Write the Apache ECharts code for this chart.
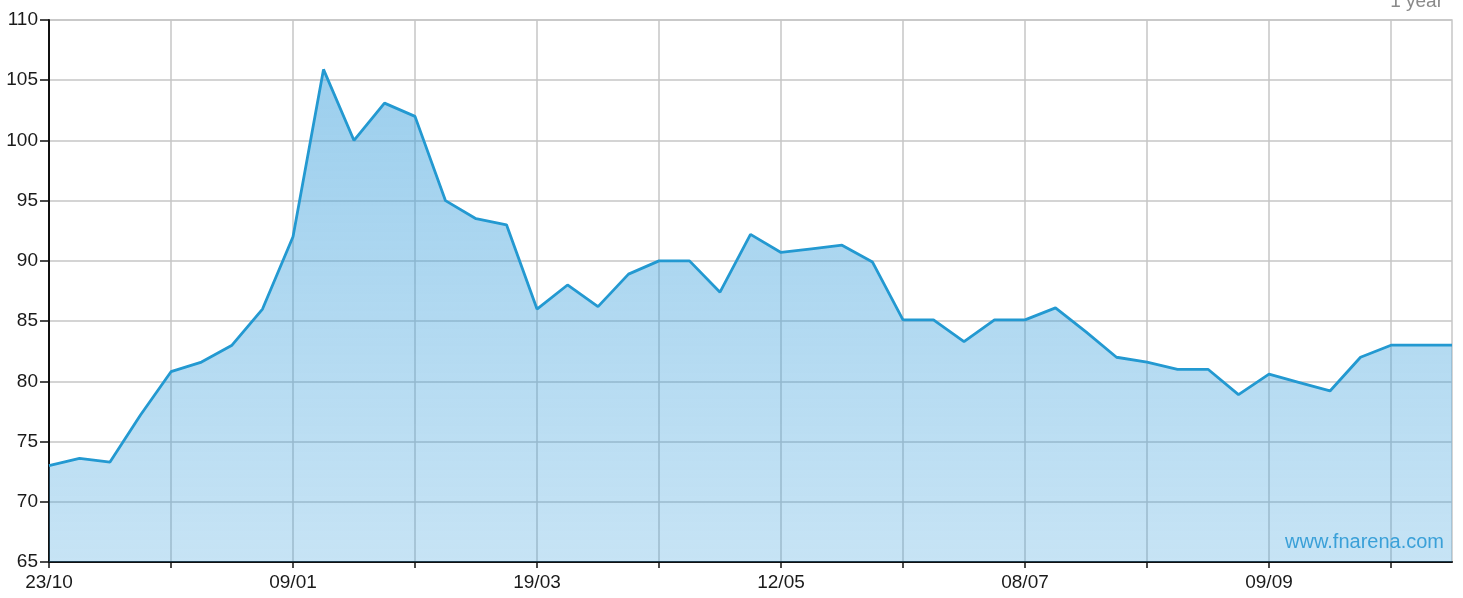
<!DOCTYPE html>
<html>
<head>
<meta charset="utf-8">
<script src="https://cdn.jsdelivr.net/npm/echarts@6/dist/echarts.min.js"></script>
<style>
html,body{margin:0;padding:0;background:#fff;}
#chart{width:1463px;height:598px;}
</style>
</head>
<body>
<div id="chart"></div>
<script>
// tick labels, one every 8 points
var xLabels = ['23/10','09/01','19/03','12/05','08/07','09/09'];
// price values
var prices = [
    73.0, 73.6, 73.3, 77.2, 80.8, 81.6, 83.0, 86.0,
    92.0, 105.9, 100.0, 103.1, 102.0, 95.0, 93.5, 93.0,
    86.0, 88.0, 86.2, 88.9, 90.0, 90.0, 87.4, 92.2,
    90.7, 91.0, 91.3, 89.9, 85.1, 85.1, 83.3, 85.1,
    85.1, 86.1, 84.1, 82.0, 81.6, 81.0, 81.0, 78.9,
    80.6, 79.9, 79.2, 82.0, 83.0, 83.0, 83.0
];
var yMin = 65, yMax = 110, yStep = 5;

var cats = [];
for (var i = 0; i < prices.length; i++) {
    cats.push(i % 8 === 0 ? xLabels[i / 8] : '');
}

var e = echarts.init(document.getElementById('chart'));
var font = 'Liberation Sans, Arial, sans-serif';
var option = {
    animation: false,
    grid: {left: 49, right: 11, top: 20, bottom: 36, show: true, borderColor: '#c6c6c6', borderWidth: 1.5},
    xAxis: {
        type: 'category',
        boundaryGap: false,
        data: cats,
        axisLine: {lineStyle: {color: '#111', width: 2}},
        axisTick: {show: true, interval: 3, length: 6, lineStyle: {color: '#111', width: 1.5}},
        axisLabel: {interval: 7, margin: 11, color: '#1a1a1a', fontSize: 19, fontFamily: font},
        splitLine: {show: true, interval: 3, lineStyle: {color: '#c6c6c6', width: 1.5}}
    },
    yAxis: {
        type: 'value',
        min: yMin,
        max: yMax,
        interval: yStep,
        axisLine: {show: true, lineStyle: {color: '#111', width: 2}},
        axisTick: {show: true, length: 9, lineStyle: {color: '#111', width: 1.5}},
        axisLabel: {margin: 11, color: '#1a1a1a', fontSize: 19, fontFamily: font},
        splitLine: {show: true, lineStyle: {color: '#c6c6c6', width: 1.5}}
    },
    graphic: [
        {type: 'text', right: 20, top: -8, z: 10,
         style: {text: '1 year', fill: '#8a8a8a', font: '19px ' + font}},
        {type: 'text', right: 19, top: 532, z: 10,
         style: {text: 'www.fnarena.com', fill: '#3aa0d8', font: '20px ' + font}}
    ],
    series: [{
        type: 'line',
        data: prices,
        symbol: 'none',
        lineStyle: {color: '#2399d1', width: 2.8},
        areaStyle: {
            opacity: 1,
            color: new echarts.graphic.LinearGradient(0, 0, 0, 1, [
                {offset: 0, color: 'rgba(60,160,220,0.51)'},
                {offset: 1, color: 'rgba(60,160,220,0.29)'}
            ])
        }
    }]
};
e.setOption(option);
</script>
</body>
</html>
